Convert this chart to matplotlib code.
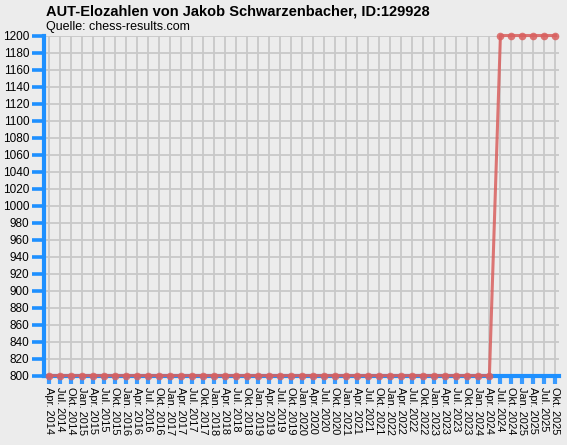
import matplotlib
matplotlib.use("Agg")
import matplotlib.pyplot as plt

labels = [
    "Apr. 2014", "Jul. 2014", "Okt. 2014", "Jan. 2015",
    "Apr. 2015", "Jul. 2015", "Okt. 2015", "Jan. 2016",
    "Apr. 2016", "Jul. 2016", "Okt. 2016", "Jan. 2017",
    "Apr. 2017", "Jul. 2017", "Okt. 2017", "Jan. 2018",
    "Apr. 2018", "Jul. 2018", "Okt. 2018", "Jan. 2019",
    "Apr. 2019", "Jul. 2019", "Okt. 2019", "Jan. 2020",
    "Apr. 2020", "Jul. 2020", "Okt. 2020", "Jan. 2021",
    "Apr. 2021", "Jul. 2021", "Okt. 2021", "Jan. 2022",
    "Apr. 2022", "Jul. 2022", "Okt. 2022", "Jan. 2023",
    "Apr. 2023", "Jul. 2023", "Okt. 2023", "Jan. 2024",
    "Apr. 2024", "Jul. 2024", "Okt. 2024", "Jan. 2025",
    "Apr. 2025", "Jul. 2025", "Okt. 2025",
]

values = [800] * 41 + [1200] * 6

title = "AUT-Elozahlen von Jakob Schwarzenbacher, ID:129928"
subtitle = "Quelle: chess-results.com"

plt.rcParams['font.family'] = ['Liberation Sans', 'DejaVu Sans']

W, H = 567, 445
fig = plt.figure(figsize=(W / 100, H / 100), dpi=100)
fig.patch.set_facecolor('#ececec')
ax = fig.add_axes([44 / W, 1 - 375.5 / H, (559 - 44) / W, (375.5 - 35.5) / H])
ax.set_facecolor('#ececec')

xs = list(range(len(values)))
ax.set_xlim(-0.45, len(values) - 1 + 0.32)
ax.set_ylim(800, 1200)

ax.set_yticks(range(800, 1201, 20))
ax.set_xticks(xs)
ax.set_xticklabels(labels, rotation=-90, fontsize=7.9)
ax.tick_params(axis='y', labelsize=8.5, length=9, width=2.6, color='#1e90ff', pad=1.5)
ax.tick_params(axis='x', length=6, width=3, color='#3a9bff', pad=2)
for t in ax.get_xticklabels():
    t.set_verticalalignment('top')

ax.grid(True, color='#c8c8c8', linewidth=1.3)
ax.set_axisbelow(True)
for s in ['top', 'right']:
    ax.spines[s].set_visible(False)
for s in ['left', 'bottom']:
    ax.spines[s].set_color('#1e90ff')
    ax.spines[s].set_linewidth(3)

ax.plot(xs, values, color='#d9605f', alpha=0.85, linewidth=2.2,
        marker='o', markersize=5.5, markeredgewidth=0, clip_on=False, zorder=5)

fig.text(46 / W, 1 - 11.5 / H, title, fontsize=10.5, fontweight='bold', va='center', ha='left')
fig.text(46 / W, 1 - 27 / H, subtitle, fontsize=9.0, va='center', ha='left')

fig.savefig('out.png', dpi=100, facecolor=fig.get_facecolor())
